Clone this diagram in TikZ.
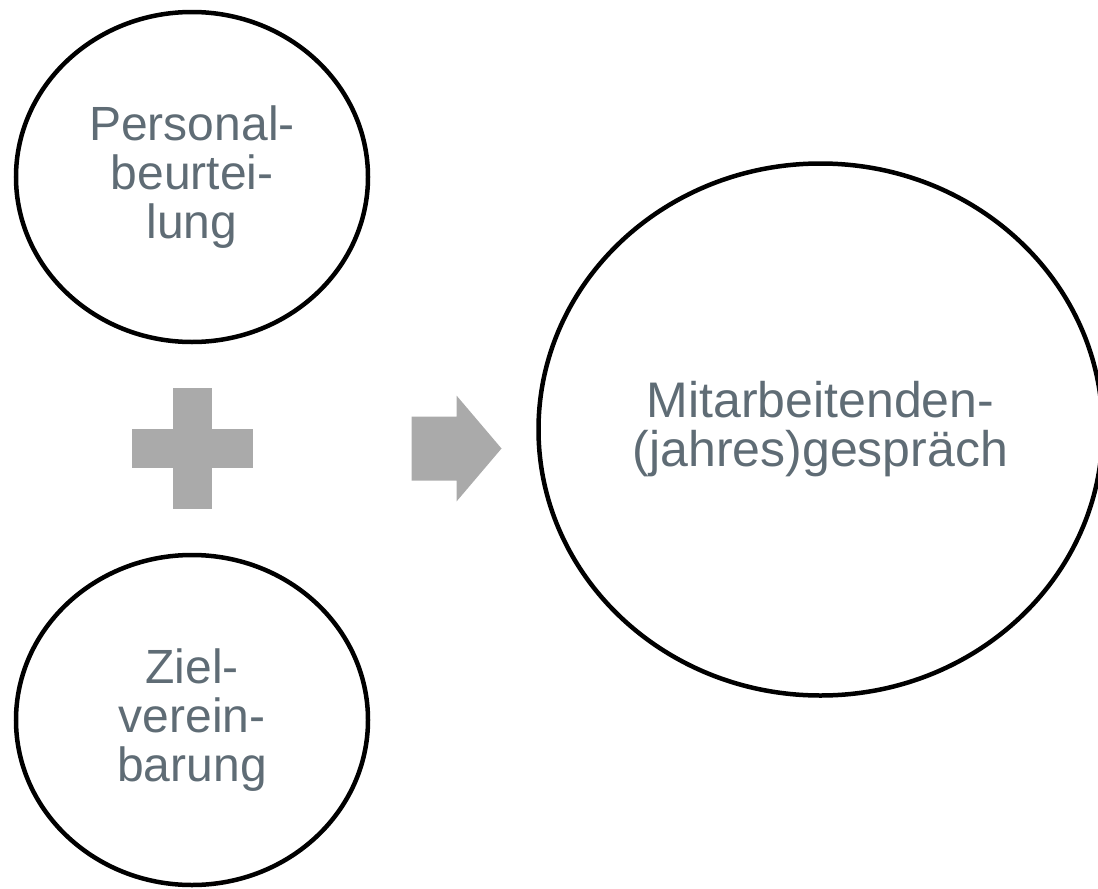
\documentclass[tikz,border=0pt]{standalone}
\usepackage{fontspec}
\setmainfont{Liberation Sans}
\usetikzlibrary{positioning, shapes.geometric}
\definecolor{labelgray}{RGB}{95,108,117}
\definecolor{signgray}{RGB}{170,170,170}

\begin{document}
\begin{tikzpicture}[
    x=1pt, y=-1pt,
    ring/.style={ellipse, draw, line width=4.5pt, inner sep=0pt, outer sep=0pt, text=labelgray, align=center},
    bar/.style={rectangle, fill=signgray, inner sep=0pt, outer sep=0pt}
]
\useasboundingbox (0,0) rectangle (1098,889);

\node[ring, minimum width=352pt, minimum height=330pt, font=\fontsize{48}{49}\selectfont] (appraisal) at (192,177) {Personal-\\beurtei-\\lung};
\node[bar, minimum width=39pt, minimum height=121pt, below=46pt of appraisal] (plusv) {};
\node[bar, minimum width=121pt, minimum height=39pt] (plush) at (plusv) {};
\node[ring, minimum width=352pt, minimum height=330pt, font=\fontsize{48}{49}\selectfont, below=46pt of plusv] (goals) {Ziel-\\verein-\\barung};

\coordinate[right=159pt of plush] (arrowtail);
\fill[signgray] (arrowtail) ++(0,-32) -- ++(45,0) -- ++(0,-21) -- ++(45,53) coordinate (arrowtip) -- ++(-45,53) -- ++(0,-21) -- ++(-45,0) -- cycle;

\node[ring, minimum width=564pt, minimum height=532pt, font=\fontsize{50}{49}\selectfont, right=37pt of arrowtip, yshift=19pt] (talk) {Mitarbeitenden-\\(jahres)gespräch};

\end{tikzpicture}
\end{document}
